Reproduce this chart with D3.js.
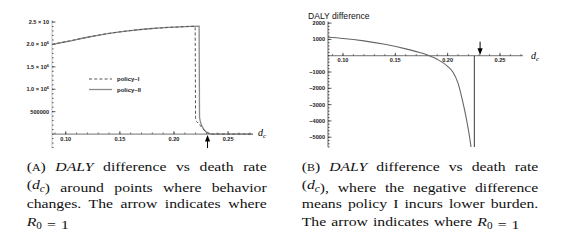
<!DOCTYPE html>
<html>
<head>
<meta charset="utf-8">
<script src="https://cdn.jsdelivr.net/npm/d3@7"></script>
<style>
  html, body { margin: 0; padding: 0; background: #fff; }
  svg { display: block; }
</style>
</head>
<body>
<svg id="fig" width="563" height="242"></svg>
<script>
"use strict"

// ---- panel A: DALY vs death rate, two policies ----
const dcPolicyI   = [0.0873, 0.10, 0.12, 0.14, 0.16, 0.18, 0.20, 0.2195, 0.2200, 0.2215, 0.223, 0.225, 0.227, 0.229, 0.231, 0.233, 0.236, 0.273];
const dalyPolicyI = [2.0e6, 2.06e6, 2.16e6, 2.245e6, 2.31e6, 2.355e6, 2.385e6, 2.405e6, 3.1e5, 2.7e5, 2.3e5, 1.7e5, 1.1e5, 6e4, 3e4, 1.2e4, 0, 0];
const dcPolicyII   = [0.0873, 0.10, 0.12, 0.14, 0.16, 0.18, 0.20, 0.2232, 0.2236, 0.225, 0.227, 0.229, 0.231, 0.233, 0.236, 0.273];
const dalyPolicyII = [2.0e6, 2.06e6, 2.16e6, 2.245e6, 2.31e6, 2.355e6, 2.385e6, 2.41e6, 3.8e5, 2.3e5, 1.3e5, 6.5e4, 3e4, 1.2e4, 0, 0];
const legendNames = ["policy\u2013I", "policy\u2013II"];

const xTicksA = [0.10, 0.15, 0.20, 0.25];
const xTickLabels = ["0.10", "0.15", "0.20", "0.25"];
const yTicksA = [500000, 1000000, 1500000, 2000000, 2500000];
const yTickLabelsA = ["500000", "1.0 \u00d7 10", "1.5 \u00d7 10", "2.0 \u00d7 10", "2.5 \u00d7 10"];
const yTickSupA = ["", "6", "6", "6", ""];

// ---- panel B: DALY difference ----
const dcDiff   = [0.0857, 0.10, 0.12, 0.14, 0.16, 0.17, 0.18, 0.19, 0.20, 0.205, 0.21, 0.214, 0.218, 0.221, 0.223];
const dalyDiff = [1130, 1060, 910, 700, 420, 250, 60, -220, -650, -1000, -1700, -2700, -3900, -5000, -5900];
const yTicksB = [2000, 1000, -1000, -2000, -3000, -4000, -5000];
const yTickLabelsB = ["2000", "1000", "\u22121000", "\u22122000", "\u22123000", "\u22124000", "\u22125000"];
const asymptoteB = 0.2255;
const r0Point = 0.231;

const captionA = ["(A) DALY difference vs death rate", "(d_c) around points where behavior", "changes. The arrow indicates where", "R_0 = 1"];
const captionB = ["(B) DALY difference vs death rate", "(d_c), where the negative difference", "means policy I incurs lower burden.", "The arrow indicates where R_0 = 1"];

const svg = d3.select("#fig");
const tickFont = "'Liberation Sans', Arial, sans-serif";

// scales
const xA = d3.scaleLinear().domain([0.0873, 0.273]).range([52, 253]);
const yA = d3.scaleLinear().domain([-3.1e5, 2.545e6]).range([148, 20]);
const xB = d3.scaleLinear().domain([0.0857, 0.272]).range([328, 523]);
const yB = d3.scaleLinear().domain([-5600, 2100]).range([147, 21.5]);

function drawAxes(g, x, y, xMinor, yMinor, xLabelDy, yAxisColor) {
    let y0 = y(0), x0 = x.range()[0];
    // axis lines
    g.append("line").attr("x1", x.range()[0]).attr("x2", x.range()[1])
        .attr("y1", y0).attr("y2", y0).attr("stroke", "#333").attr("stroke-width", 0.7);
    g.append("line").attr("x1", x0).attr("x2", x0)
        .attr("y1", y.range()[0]).attr("y2", y.range()[1]).attr("stroke", yAxisColor).attr("stroke-width", 0.7);
    // minor ticks
    g.append("g").selectAll("line").data(xMinor).enter().append("line")
        .attr("x1", d => x(d)).attr("x2", d => x(d))
        .attr("y1", y0).attr("y2", y0 - 1.6).attr("stroke", "#222").attr("stroke-width", 0.6);
    g.append("g").selectAll("line").data(yMinor).enter().append("line")
        .attr("x1", x0).attr("x2", x0 + 1.6)
        .attr("y1", d => y(d)).attr("y2", d => y(d)).attr("stroke", "#222").attr("stroke-width", 0.7);
    // major x ticks + labels
    g.append("g").selectAll("line").data(xTicksA).enter().append("line")
        .attr("x1", d => x(d)).attr("x2", d => x(d))
        .attr("y1", y0).attr("y2", y0 - 3).attr("stroke", "#222").attr("stroke-width", 0.7);
    g.append("g").selectAll("text").data(xTicksA).enter().append("text")
        .attr("x", d => x(d)).attr("y", y0 + xLabelDy)
        .attr("text-anchor", "middle").style("font", "bold 5.6px " + tickFont).attr("fill", "#222")
        .text((d, i) => xTickLabels[i]);
}

function dcLabel(g, x, y) {
    let t = g.append("text").attr("x", x).attr("y", y)
        .style("font-family", "'Liberation Serif', serif").style("font-style", "italic").style("font-size", "10px");
    t.append("tspan").text("d");
    t.append("tspan").attr("dy", 2).style("font-size", "7px").text("c");
}

// ---------------- panel A ----------------
const gA = svg.append("g");
drawAxes(gA, xA, yA, d3.range(0.09, 0.2705, 0.01), d3.range(-300000, 2500001, 100000), 7, "#aaa");

gA.append("g").selectAll("line").data(yTicksA).enter().append("line")
    .attr("x1", 52).attr("x2", 55.5).attr("y1", d => yA(d)).attr("y2", d => yA(d))
    .attr("stroke", "#222").attr("stroke-width", 0.7);
let yLabA = gA.append("g").selectAll("text").data(yTicksA).enter().append("text")
    .attr("x", 49).attr("y", d => yA(d) + 2)
    .attr("text-anchor", "end").style("font", "bold 5.6px " + tickFont).attr("fill", "#222");
yLabA.append("tspan").text((d, i) => yTickLabelsA[i]);
yLabA.append("tspan").attr("dy", -2).style("font-size", "4px").text((d, i) => yTickSupA[i]);

const lineA = d3.line().x(d => xA(d[0])).y(d => yA(d[1])).curve(d3.curveMonotoneX);
gA.append("path").datum(d3.zip(dcPolicyII, dalyPolicyII))
    .attr("d", lineA).attr("fill", "none").attr("stroke", "#8a8a8a").attr("stroke-width", 1.3);
gA.append("path").datum(d3.zip(dcPolicyI, dalyPolicyI))
    .attr("d", lineA).attr("fill", "none").attr("stroke", "#555").attr("stroke-width", 1)
    .attr("stroke-dasharray", "3,2.2");

// legend
const legend = gA.append("g");
legend.append("line").attr("x1", 89).attr("x2", 112).attr("y1", 79).attr("y2", 79)
    .attr("stroke", "#555").attr("stroke-width", 1).attr("stroke-dasharray", "3,2.2");
legend.append("line").attr("x1", 89).attr("x2", 112).attr("y1", 89.5).attr("y2", 89.5)
    .attr("stroke", "#8a8a8a").attr("stroke-width", 1.3);
legend.selectAll("text").data(legendNames).enter().append("text")
    .attr("x", 117).attr("y", (d, i) => 81 + i * 10.5)
    .style("font", "bold 6px " + tickFont).attr("fill", "#222").text(d => d);

dcLabel(gA, 258, 136);

// R0 arrow (up)
let axA = xA(r0Point), ayA = yA(0);
gA.append("line").attr("x1", axA).attr("x2", axA).attr("y1", ayA + 6).attr("y2", ayA + 14)
    .attr("stroke", "#000").attr("stroke-width", 1);
gA.append("path").attr("d", `M${axA},${ayA + 0.8}L${axA - 2.6},${ayA + 7.5}L${axA + 2.6},${ayA + 7.5}Z`).attr("fill", "#000");

// ---------------- panel B ----------------
const gB = svg.append("g");
drawAxes(gB, xB, yB, d3.range(0.09, 0.2705, 0.01), d3.range(-5600, 2001, 200), 6.5, "#222");

gB.append("g").selectAll("line").data(yTicksB).enter().append("line")
    .attr("x1", 328).attr("x2", 331.5).attr("y1", d => yB(d)).attr("y2", d => yB(d))
    .attr("stroke", "#222").attr("stroke-width", 0.7);
gB.append("g").selectAll("text").data(yTicksB).enter().append("text")
    .attr("x", 325).attr("y", d => yB(d) + 2)
    .attr("text-anchor", "end").style("font", "bold 5.6px " + tickFont).attr("fill", "#222")
    .text((d, i) => yTickLabelsB[i]);

gB.append("text").attr("x", 308).attr("y", 19.3)
    .style("font", "8.6px " + tickFont).attr("fill", "#111").text("DALY difference");

svg.append("defs").append("clipPath").attr("id", "clipB")
    .append("rect").attr("x", 328).attr("y", 20).attr("width", 196).attr("height", 127);

const lineB = d3.line().x(d => xB(d[0])).y(d => yB(d[1])).curve(d3.curveMonotoneX);
gB.append("path").datum(d3.zip(dcDiff, dalyDiff)).attr("clip-path", "url(#clipB)")
    .attr("d", lineB).attr("fill", "none").attr("stroke", "#666").attr("stroke-width", 1.1);

gB.append("line").attr("x1", xB(asymptoteB)).attr("x2", xB(asymptoteB))
    .attr("y1", yB(0)).attr("y2", 147).attr("stroke", "#222").attr("stroke-width", 0.9);

dcLabel(gB, 531, 58.5);

// R0 arrow (down)
let axB = xB(r0Point), ayB = yB(0);
gB.append("line").attr("x1", axB).attr("x2", axB).attr("y1", ayB - 14).attr("y2", ayB - 6)
    .attr("stroke", "#000").attr("stroke-width", 1);
gB.append("path").attr("d", `M${axB},${ayB - 0.8}L${axB - 2.6},${ayB - 7.5}L${axB + 2.6},${ayB - 7.5}Z`).attr("fill", "#000");

// ---------------- captions ----------------
const capFont = "'Liberation Serif', 'Times New Roman', serif";
const stretch = 1.165;

function richLine(t, str) {
    let parts = str.split(/(\(A\)|\(B\)|DALY|d_c|R_0)/).filter(s => s.length);
    parts.forEach(p => {
        if (p === "(A)" || p === "(B)") {
            t.append("tspan").text("(");
            t.append("tspan").style("font-size", "10.2px").text(p[1]);
            t.append("tspan").text(")");
        } else if (p === "DALY") {
            t.append("tspan").style("font-style", "italic").text("DALY");
        } else if (p === "d_c" || p === "R_0") {
            t.append("tspan").style("font-style", "italic").text(p[0]);
            t.append("tspan").attr("dy", 3).style("font-size", "9.6px")
                .style("font-style", p === "d_c" ? "italic" : "normal").text(p[2]);
            t.append("tspan").attr("dy", -3).text("");
        } else {
            t.append("tspan").text(p);
        }
    });
}

function caption(lines, x0, width) {
    let baselines = [171, 189.3, 207.7, 226];
    lines.forEach((str, i) => {
        let t = svg.append("text")
            .attr("transform", `translate(${x0},${baselines[i]}) scale(${stretch},1)`)
            .style("font-family", capFont).style("font-size", "13.5px").attr("fill", "#111")
            .attr("xml:space", "preserve");
        richLine(t, str);
        if (i < lines.length - 1) {
            let natural = t.node().getComputedTextLength();
            let spaces = (str.match(/ /g) || []).length;
            let extra = (width / stretch - natural) / spaces;
            t.style("word-spacing", extra + "px");
        } else {
            t.style("word-spacing", "1px");
        }
    });
}

caption(captionA, 26.7, 240);
caption(captionB, 301.7, 236.6);
</script>
</body>
</html>
